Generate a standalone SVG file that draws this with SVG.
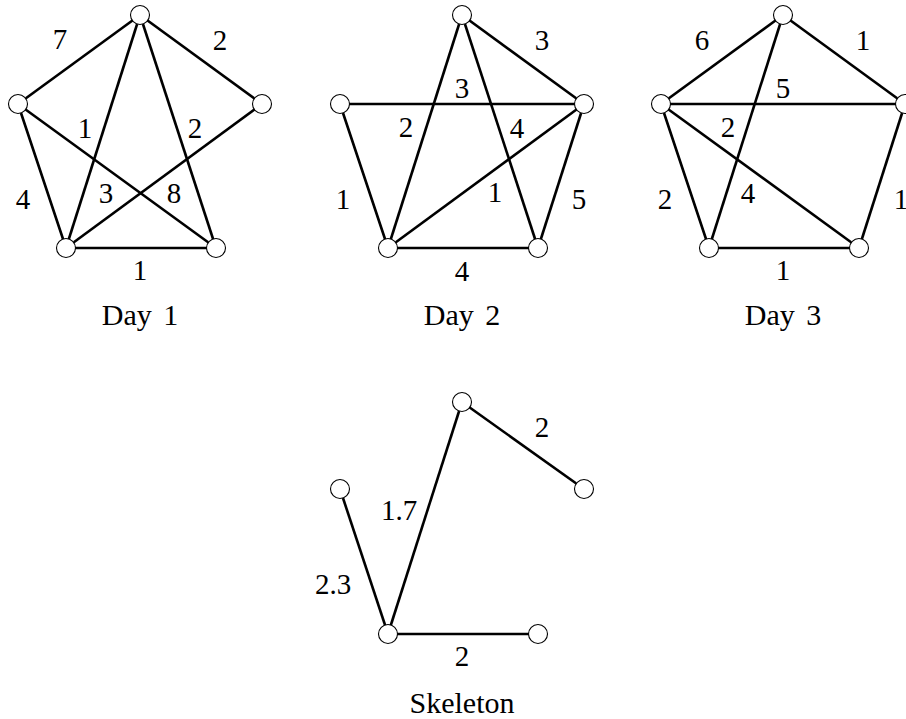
<svg xmlns="http://www.w3.org/2000/svg" width="906" height="719" viewBox="0 0 906 719">
<defs>
<style>
.bg{fill:#fff}
.e{stroke:#000;stroke-width:2.6;fill:none;stroke-linecap:butt}
.n{fill:#fff;stroke:#000;stroke-width:1.1}
.t{font-family:'Liberation Serif','DejaVu Serif',serif;font-size:29px;fill:#000;text-anchor:middle}
.c{font-family:'Liberation Serif','DejaVu Serif',serif;font-size:30px;fill:#000;text-anchor:middle;word-spacing:4px}
</style>
</defs>
<rect class="bg" x="0" y="0" width="906" height="719"/>
<g id="connectors">
<line class="e" x1="140" y1="15" x2="18" y2="104"/>
<line class="e" x1="140" y1="15" x2="262" y2="104"/>
<line class="e" x1="140" y1="15" x2="66" y2="248"/>
<line class="e" x1="140" y1="15" x2="216" y2="248"/>
<line class="e" x1="18" y1="104" x2="66" y2="248"/>
<line class="e" x1="18" y1="104" x2="216" y2="248"/>
<line class="e" x1="262" y1="104" x2="66" y2="248"/>
<line class="e" x1="66" y1="248" x2="216" y2="248"/>
<line class="e" x1="462" y1="15" x2="584" y2="104"/>
<line class="e" x1="340" y1="104" x2="584" y2="104"/>
<line class="e" x1="462" y1="15" x2="388" y2="248"/>
<line class="e" x1="462" y1="15" x2="538" y2="248"/>
<line class="e" x1="584" y1="104" x2="388" y2="248"/>
<line class="e" x1="340" y1="104" x2="388" y2="248"/>
<line class="e" x1="584" y1="104" x2="538" y2="248"/>
<line class="e" x1="388" y1="248" x2="538" y2="248"/>
<line class="e" x1="783" y1="15" x2="661" y2="104"/>
<line class="e" x1="783" y1="15" x2="905" y2="104"/>
<line class="e" x1="661" y1="104" x2="905" y2="104"/>
<line class="e" x1="783" y1="15" x2="709" y2="248"/>
<line class="e" x1="661" y1="104" x2="709" y2="248"/>
<line class="e" x1="661" y1="104" x2="859" y2="248"/>
<line class="e" x1="905" y1="104" x2="859" y2="248"/>
<line class="e" x1="709" y1="248" x2="859" y2="248"/>
<line class="e" x1="462" y1="402" x2="584" y2="489"/>
<line class="e" x1="462" y1="402" x2="388" y2="634"/>
<line class="e" x1="340" y1="489" x2="388" y2="634"/>
<line class="e" x1="388" y1="634" x2="538" y2="634"/>
</g>
<g id="edge-labels" font-family="Liberation Serif, DejaVu Serif, serif">
<text class="t" x="60" y="49">7</text>
<text class="t" x="220" y="50">2</text>
<text class="t" x="85" y="138">1</text>
<text class="t" x="195" y="138">2</text>
<text class="t" x="23" y="209">4</text>
<text class="t" x="106" y="203">3</text>
<text class="t" x="174" y="203">8</text>
<text class="t" x="140" y="280">1</text>
<text class="t" x="542" y="50">3</text>
<text class="t" x="462" y="98">3</text>
<text class="t" x="406" y="137">2</text>
<text class="t" x="517" y="138">4</text>
<text class="t" x="343" y="209">1</text>
<text class="t" x="495" y="202">1</text>
<text class="t" x="579" y="209">5</text>
<text class="t" x="462" y="281">4</text>
<text class="t" x="702" y="50">6</text>
<text class="t" x="863" y="50">1</text>
<text class="t" x="783" y="98">5</text>
<text class="t" x="728" y="137">2</text>
<text class="t" x="665" y="209">2</text>
<text class="t" x="748" y="203">4</text>
<text class="t" x="901" y="209">1</text>
<text class="t" x="783" y="280">1</text>
<text class="t" x="542" y="437">2</text>
<text class="t" x="399" y="520">1.7</text>
<text class="t" x="333" y="594">2.3</text>
<text class="t" x="462" y="666">2</text>
</g>
<g id="day1">
<circle class="n" cx="140" cy="15" r="9.5"/>
<circle class="n" cx="18" cy="104" r="9.5"/>
<circle class="n" cx="262" cy="104" r="9.5"/>
<circle class="n" cx="66" cy="248" r="9.5"/>
<circle class="n" cx="216" cy="248" r="9.5"/>
<text class="c" x="140" y="325">Day 1</text>
</g>
<g id="day2">
<circle class="n" cx="462" cy="15" r="9.5"/>
<circle class="n" cx="340" cy="104" r="9.5"/>
<circle class="n" cx="584" cy="104" r="9.5"/>
<circle class="n" cx="388" cy="248" r="9.5"/>
<circle class="n" cx="538" cy="248" r="9.5"/>
<text class="c" x="462" y="325">Day 2</text>
</g>
<g id="day3">
<circle class="n" cx="783" cy="15" r="9.5"/>
<circle class="n" cx="661" cy="104" r="9.5"/>
<circle class="n" cx="905" cy="104" r="9.5"/>
<circle class="n" cx="709" cy="248" r="9.5"/>
<circle class="n" cx="859" cy="248" r="9.5"/>
<text class="c" x="783" y="325">Day 3</text>
</g>
<g id="skeleton">
<circle class="n" cx="462" cy="402" r="9.5"/>
<circle class="n" cx="340" cy="489" r="9.5"/>
<circle class="n" cx="584" cy="489" r="9.5"/>
<circle class="n" cx="388" cy="634" r="9.5"/>
<circle class="n" cx="538" cy="634" r="9.5"/>
<text class="c" x="462" y="713">Skeleton</text>
</g>
</svg>
